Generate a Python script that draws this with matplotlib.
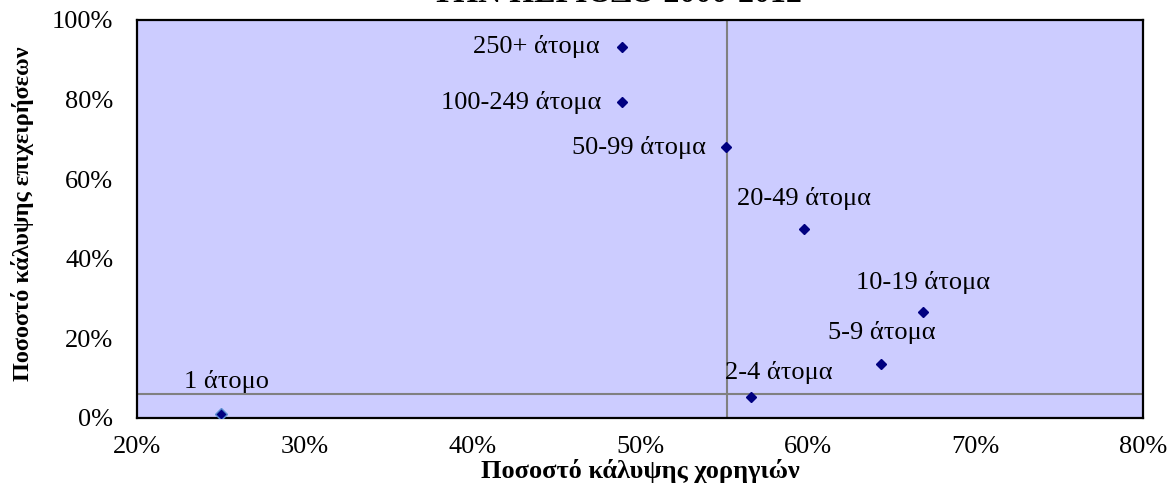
import matplotlib
matplotlib.use('Agg')
import matplotlib.pyplot as plt
from matplotlib.ticker import FuncFormatter

plt.rcParams['font.family'] = ['Liberation Serif', 'DejaVu Serif']

# size classes and coverage percentages
categories = ['1 άτομο', '2-4 άτομα', '5-9 άτομα', '10-19 άτομα',
              '20-49 άτομα', '50-99 άτομα', '100-249 άτομα', '250+ άτομα']
grant_cov = [25.0, 56.6, 64.4, 66.9, 59.8, 55.1, 48.9, 48.9]
firm_cov = [0.9, 5.2, 13.6, 26.6, 47.4, 68.0, 79.3, 93.3]
avg_grant = 55.2
avg_firm = 6.0

title = 'ΤΗΝ ΠΕΡΙΟΔΟ 2000-2012'
xlabel = 'Ποσοστό κάλυψης χορηγιών'
ylabel = 'Ποσοστό κάλυψης επιχειρήσεων'

# label placement (pixel offsets from the marker, alignment)
px = 0.72
label_pos = [((6, 33), 'center'), ((28.5, 25), 'center'), ((0, 31), 'center'),
             ((0, 30), 'center'), ((0, 31), 'center'), ((-20, 0), 'right'),
             ((-20, 0), 'right'), ((-22, 0), 'right')]

fs = 19

fig = plt.figure(figsize=(11.69, 4.97), dpi=100)
ax = fig.add_axes([137/1169, 79/497, 1006/1169, 398/497])
ax.set_facecolor('#CCCCFF')

ax.axvline(avg_grant, color='#808080', lw=1.5, zorder=1)
ax.axhline(avg_firm, color='#808080', lw=1.5, zorder=1)

ax.plot(grant_cov, firm_cov, linestyle='none', marker='D', markersize=5.3,
        color='#000080', zorder=3)
ax.plot(grant_cov[:1], firm_cov[:1], linestyle='none', marker='D', markersize=5.8,
        color='#000080', markeredgecolor='#5B8FD0', markeredgewidth=1, zorder=4)

for name, x, y, ((dx, dy), ha) in zip(categories, grant_cov, firm_cov, label_pos):
    ax.annotate(name, (x, y), xytext=(dx * px, dy * px), textcoords='offset points',
                ha=ha, va='center', fontsize=fs, color='black')

ax.set_xlim(20, 80)
ax.set_ylim(0, 100)
ax.set_xticks(range(20, 81, 10))
ax.set_yticks(range(0, 101, 20))
pct = FuncFormatter(lambda v, p: '%d%%' % v)
ax.xaxis.set_major_formatter(pct)
ax.yaxis.set_major_formatter(pct)
ax.tick_params(axis='both', length=0, labelsize=fs)
ax.tick_params(axis='x', pad=13)
ax.tick_params(axis='y', pad=17)

for s in ax.spines.values():
    s.set_linewidth(1.6)
    s.set_color('black')

ax.set_xlabel(xlabel, fontsize=fs, fontweight='bold', labelpad=1)
ax.set_ylabel(ylabel, fontsize=17.5, fontweight='bold', va='center')
ax.yaxis.set_label_coords(-0.114, 0.513)

fig.text(617/1169, 1 - 2.5/497, title, ha='center', va='baseline',
         fontsize=23, fontweight='bold')

fig.savefig('out.png', dpi=100)
